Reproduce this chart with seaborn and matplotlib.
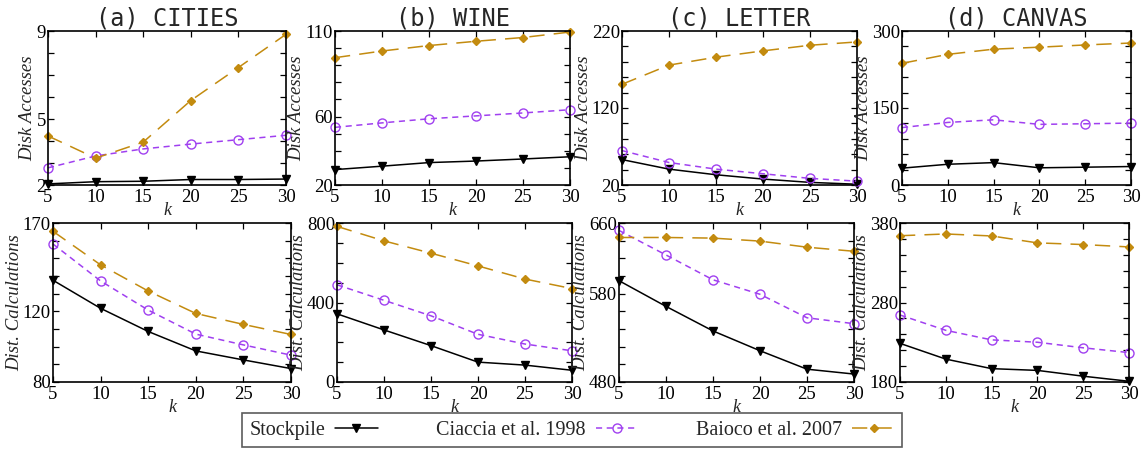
import matplotlib
matplotlib.use("Agg")
import matplotlib.pyplot as plt
import seaborn as sns
import numpy as np
from matplotlib.ticker import FixedLocator, FixedFormatter

sns.set_theme(style="ticks")
plt.rcParams['font.family'] = ['Liberation Serif', 'DejaVu Serif']

k = [5, 10, 15, 20, 25, 30]
titles = ["(a) CITIES", "(b) WINE", "(c) LETTER", "(d) CANVAS"]
names = ["Stockpile", "Ciaccia et al. 1998", "Baioco et al. 2007"]

# disk accesses, one list per dataset
disk_stockpile = [[2.05, 2.15, 2.17, 2.25, 2.25, 2.27],
                  [29, 31, 33.1, 34.0, 35.2, 36.5],
                  [53, 40.6, 33.3, 27.7, 23.4, 21],
                  [32.8, 40.4, 43.6, 33.5, 34.7, 36]]
disk_ciaccia = [[2.78, 3.32, 3.64, 3.86, 4.06, 4.26],
                [53.7, 56.3, 58.7, 60.4, 62.1, 64.0],
                [64.7, 49.2, 40.6, 34.6, 28.6, 25],
                [111.8, 121.9, 127, 118.1, 119.3, 120.6]]
disk_baioco = [[4.23, 3.22, 3.95, 5.84, 7.34, 8.85],
               [94.4, 98.3, 101.5, 104, 106.2, 109.4],
               [150.8, 175.7, 186, 194.2, 201.5, 205.8],
               [237, 254.5, 264.6, 268.5, 272.8, 276.6]]

# distance calculations
dist_stockpile = [[137.6, 121.7, 108.6, 97.6, 92.5, 87.6],
                  [343, 262, 183, 100, 85, 59],
                  [594.7, 565.6, 537.8, 515.4, 494.5, 489],
                  [228.6, 208.8, 196.8, 194.6, 187.3, 180.9]]
dist_ciaccia = [[158.1, 137.2, 120.7, 107.1, 101, 95.2],
                [489, 411, 333, 240, 191, 157],
                [651.6, 623.8, 595.7, 579.3, 552.7, 546],
                [264.3, 245, 233, 230, 223, 217]]
dist_baioco = [[165.3, 146.3, 131.5, 118.8, 112.6, 106.9],
               [783, 710, 648, 584, 518, 470],
               [643.6, 643.6, 642.9, 639.5, 632.6, 628],
               [364, 366.2, 363.7, 355, 352.9, 349.9]]

# y axis: (min, max, minor step, labelled values)
disk_axis = [(2, 9, 1, [2, 5, 9]), (20, 110, 10, [20, 60, 110]),
             (20, 220, 20, [20, 120, 220]), (0, 300, 30, [0, 150, 300])]
dist_axis = [(80, 170, 10, [80, 120, 170]), (0, 800, 100, [0, 400, 800]),
             (480, 660, 20, [480, 580, 660]), (180, 380, 20, [180, 280, 380])]

colors = ["black", "#a040f0", "#c38b0f"]
styles = [dict(marker="v", linestyle="-", markersize=5.5),
          dict(marker="o", linestyle=(0, (4, 3)), markersize=6.5,
               markerfacecolor="none"),
          dict(marker="D", linestyle=(0, (10, 6)), markersize=4.5)]

W, H = 1148, 450
fig = plt.figure(figsize=(W / 100, H / 100), dpi=100)

top_left = [48, 335, 622, 902]
bot_left = [53, 337, 619, 900]
widths = [238, 235, 235, 229]


def px_axes(left, top, width, height):
    return fig.add_axes([left / W, 1 - (top + height) / H, width / W, height / H])


def style_axes(ax, yspec, ylabel):
    lo, hi, step, labelled = yspec
    ticks = list(np.arange(lo, hi + step / 2, step))
    ax.set_xlim(5, 30)
    ax.set_ylim(lo, hi)
    ax.xaxis.set_major_locator(FixedLocator(k))
    ax.yaxis.set_major_locator(FixedLocator(ticks))
    lab = [("%g" % t) if any(abs(t - v) < 1e-9 for v in labelled) else "" for t in ticks]
    ax.yaxis.set_major_formatter(FixedFormatter(lab))
    ax.tick_params(direction="in", top=True, right=True, length=4, width=0.9,
                   labelsize=13.5, pad=1.5, colors="black")
    ax.tick_params(axis="x", pad=3)
    for s in ax.spines.values():
        s.set_color("black")
        s.set_linewidth(1.2)
    ax.set_xlabel("k", fontstyle="italic", fontsize=13, labelpad=-3)
    ax.set_ylabel(ylabel, fontstyle="italic", fontsize=13.5, labelpad=0)


for i in range(4):
    ax = px_axes(top_left[i], 31, widths[i], 154)
    for j, series in enumerate([disk_stockpile, disk_ciaccia, disk_baioco]):
        sns.lineplot(x=k, y=series[i], ax=ax, color=colors[j], linewidth=1.1,
                     markeredgecolor=colors[j], markeredgewidth=1.0,
                     clip_on=False, label=names[j], legend=False, **styles[j])
    style_axes(ax, disk_axis[i], "Disk Accesses")
    ax.set_title(titles[i], fontsize=17, family="DejaVu Sans Mono", pad=4)
    if i == 0:
        handles, labels = ax.get_legend_handles_labels()

    ax2 = px_axes(bot_left[i], 223, widths[i], 159)
    for j, series in enumerate([dist_stockpile, dist_ciaccia, dist_baioco]):
        sns.lineplot(x=k, y=series[i], ax=ax2, color=colors[j], linewidth=1.1,
                     markeredgecolor=colors[j], markeredgewidth=1.0,
                     clip_on=False, legend=False, **styles[j])
    style_axes(ax2, dist_axis[i], "Dist. Calculations")

leg = fig.legend(handles, labels, loc="center", bbox_to_anchor=(572 / W, 1 - 430 / H),
                 ncol=3, markerfirst=False, frameon=True, fancybox=False,
                 fontsize=14.5, handlelength=2.1, columnspacing=2.9,
                 borderpad=0.35, handletextpad=0.5)
leg.get_frame().set_edgecolor("#333333")
leg.get_frame().set_linewidth(1.2)

fig.savefig("out.png", dpi=100)
